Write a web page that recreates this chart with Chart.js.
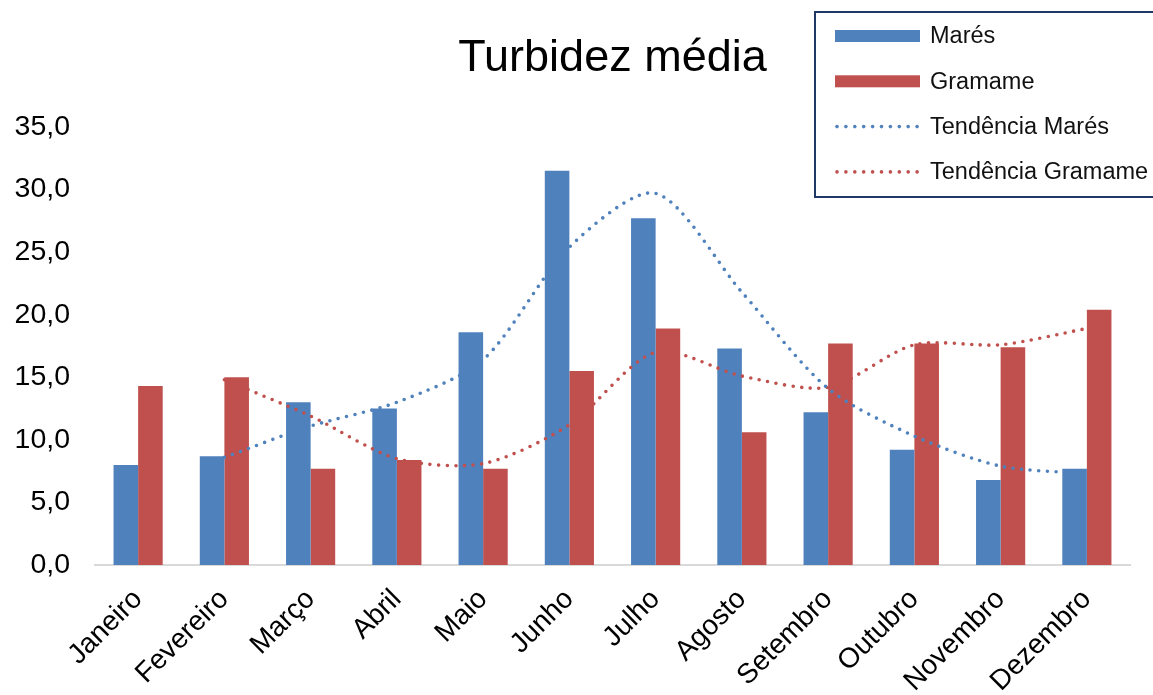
<!DOCTYPE html>
<html><head><meta charset="utf-8">
<script src="https://cdn.jsdelivr.net/npm/chart.js@4/dist/chart.umd.min.js"></script>
<style>html,body{margin:0;padding:0;background:#fff;}#wrap{width:1153px;height:695px;position:relative;}</style>
</head><body><div id="wrap"><canvas id="c" width="1153" height="695"></canvas></div>
<script>
const categories = ['Janeiro','Fevereiro','Março','Abril','Maio','Junho','Julho','Agosto','Setembro','Outubro','Novembro','Dezembro'];
const mares = [8.0, 8.7, 13.0, 12.5, 18.6, 31.5, 27.7, 17.3, 12.2, 9.2, 6.8, 7.7];
const gramame = [14.3, 15.0, 7.7, 8.4, 7.7, 15.5, 18.9, 10.6, 17.7, 17.7, 17.4, 20.4];
const tendenciaMares = [null, 8.6, 11.1, 13.0, 16.4, 25.4, 29.7, 21.8, 14.1, 10.3, 7.9, 7.3];
const tendenciaGramame = [null, 14.8, 11.9, 8.5, 8.1, 11.2, 17.0, 15.1, 14.2, 17.6, 17.6, 18.9];
const seriesLabels = ['Marés','Gramame','Tendência Marés','Tendência Gramame'];
const titleText = 'Turbidez média';
const yMin = 0, yMax = 35, yStep = 5;

const BLUE = '#4F81BD', RED = '#C0504D';
const FONT = "'Liberation Sans', Arial, sans-serif";

const boxLegend = {
  id: 'boxLegend',
  afterDraw(chart) {
    const ctx = chart.ctx;
    ctx.save();
    ctx.fillStyle = '#fff';
    ctx.fillRect(815, 12, 360, 185);
    ctx.lineWidth = 2;
    ctx.strokeStyle = '#1F3864';
    ctx.strokeRect(815, 12, 360, 185);
    chart.data.datasets.forEach((ds, i) => {
      const y = 36 + i * 45.3;
      if (ds.type === 'line') {
        ctx.fillStyle = ds.borderColor;
        for (let k = 0; k < 10; k++) {
          ctx.beginPath();
          ctx.arc(837 + k * 8.9, y, 1.8, 0, Math.PI * 2);
          ctx.fill();
        }
      } else {
        ctx.fillStyle = ds.backgroundColor;
        ctx.fillRect(835, y - 6, 85, 12);
      }
      ctx.fillStyle = '#111';
      ctx.font = '23.5px ' + FONT;
      ctx.textBaseline = 'middle';
      ctx.textAlign = 'left';
      ctx.fillText(ds.label, 930, y + 1);
    });
    ctx.restore();
  }
};

new Chart(document.getElementById('c'), {
  data: {
    labels: categories,
    datasets: [
      { type: 'bar', label: seriesLabels[0], data: mares, backgroundColor: BLUE, order: 1,
        categoryPercentage: 0.57, barPercentage: 1.0 },
      { type: 'bar', label: seriesLabels[1], data: gramame, backgroundColor: RED, order: 1,
        categoryPercentage: 0.57, barPercentage: 1.0 },
      { type: 'line', label: seriesLabels[2], data: tendenciaMares, borderColor: BLUE, backgroundColor: BLUE,
        borderWidth: 3.6, borderDash: [0, 8.6], borderCapStyle: 'round', pointRadius: 0, tension: 0.28, fill: false, order: 0 },
      { type: 'line', label: seriesLabels[3], data: tendenciaGramame, borderColor: RED, backgroundColor: RED,
        borderWidth: 3.6, borderDash: [0, 8.6], borderCapStyle: 'round', pointRadius: 0, tension: 0.28, fill: false, order: 0 }
    ]
  },
  options: {
    responsive: false,
    animation: false,
    devicePixelRatio: 1,
    layout: { padding: { left: 0, right: 23, top: 0, bottom: 0 } },
    plugins: {
      legend: { display: false },
      tooltip: { enabled: false },
      title: {
        display: true, text: titleText, fullSize: false, color: '#000',
        font: { family: FONT, size: 45, weight: 'normal', lineHeight: 1.2 },
        padding: { top: 31.5, bottom: 41.5 }
      }
    },
    scales: {
      x: {
        offset: true,
        grid: { display: false, drawTicks: false },
        border: { display: true, color: '#D9D9D9', width: 2 },
        ticks: { color: '#000', font: { family: FONT, size: 28 }, minRotation: 45, maxRotation: 45, padding: 18, autoSkip: false },
        afterFit(scale) { scale.height = 130; }
      },
      y: {
        min: yMin, max: yMax,
        grid: { display: false, drawTicks: false },
        border: { display: false },
        ticks: { stepSize: yStep, color: '#000', padding: 25, font: { family: FONT, size: 28.5 },
          callback: v => Number(v).toFixed(1).replace('.', ',') },
        afterFit(scale) { scale.width = 95; }
      }
    }
  },
  plugins: [boxLegend]
});
</script>
</body></html>
